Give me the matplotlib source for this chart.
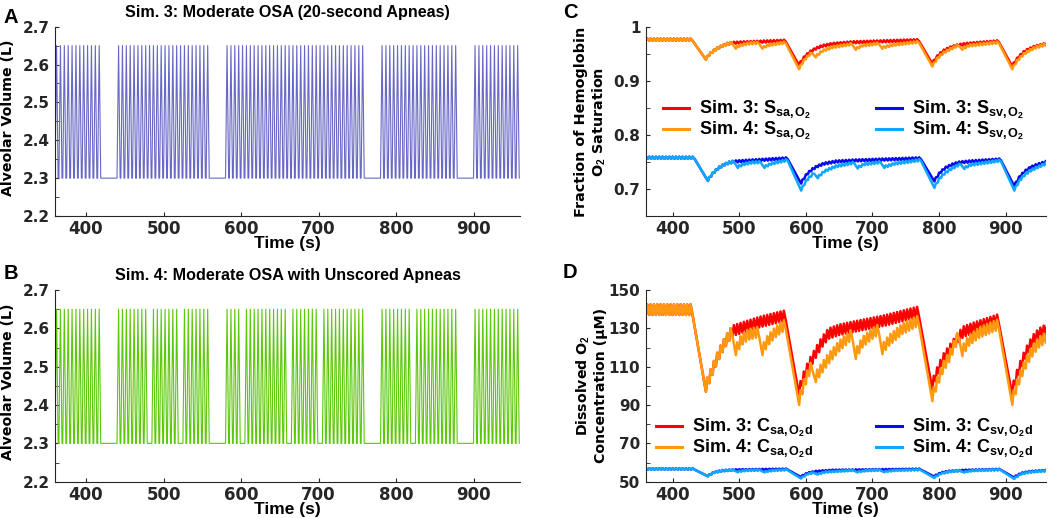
import numpy as np
import matplotlib
matplotlib.use('Agg')
import matplotlib.pyplot as plt
from matplotlib.lines import Line2D
from matplotlib.ticker import MultipleLocator, FixedLocator, FuncFormatter

plt.rcParams.update({
    'font.family': ['Liberation Sans', 'DejaVu Sans'],
    'font.weight': 'bold', 'font.size': 12.5,
    'axes.labelweight': 'bold', 'axes.titleweight': 'bold', 'axes.titlesize': 11.6,
    'mathtext.fontset': 'custom', 'mathtext.rm': 'Liberation Sans:bold',
    'mathtext.it': 'Liberation Sans:bold', 'mathtext.bf': 'Liberation Sans:bold',
    'mathtext.default': 'rm',
    'xtick.direction': 'in', 'ytick.direction': 'in',
    'xtick.major.size': 3, 'ytick.major.size': 3,
    'xtick.minor.size': 3, 'ytick.minor.size': 3,
    'axes.linewidth': 0.8, 'axes.edgecolor': '#262626',
    'xtick.color': '#262626', 'ytick.color': '#262626',
})

# breathing schedule (s)
T_START, T_END = 340, 960
BREATH_PERIOD = 5
APNEAS = [(420, 440), (560, 580), (760, 780), (880, 900)]   # scored, both sims
UNSCORED_SIM4 = [480, 520, 600, 660, 700, 820]              # missed breaths, sim 4
V_MIN, V_MAX = 2.30, 2.65
LAG_ART, LAG_VEN = 10, 13

SSA3 = [(340, .975), (430, .975), (450, .940), (458, .951), (466, .958), (474, .963), (482, .967),
        (490, .969), (530, .971), (570, .973), (590, .929), (598, .943), (606, .952), (614, .958),
        (624, .963), (640, .967), (670, .970), (720, .972), (770, .974), (790, .932), (798, .945),
        (806, .954), (816, .960), (826, .964), (840, .967), (890, .972), (910, .927), (918, .941),
        (926, .951), (934, .957), (944, .962), (960, .967)]
SSA4 = [(340, .975), (430, .975), (450, .940), (458, .951), (466, .958), (474, .963), (482, .967),
        (490, .969), (495, .960), (503, .965), (515, .968), (530, .969), (535, .960), (545, .965),
        (570, .970), (590, .922), (598, .938), (606, .948), (610, .951), (615, .944), (625, .954),
        (640, .961), (670, .967), (675, .958), (685, .964), (710, .968), (715, .960), (730, .965),
        (770, .971), (790, .927), (798, .941), (806, .950), (816, .957), (830, .965), (835, .958),
        (845, .964), (890, .970), (910, .922), (918, .937), (926, .947), (934, .954), (944, .960),
        (960, .966)]
SSV3 = [(340, .756), (433, .756), (453, .715), (461, .728), (469, .737), (477, .743), (485, .747),
        (493, .749), (533, .752), (573, .755), (593, .710), (601, .725), (609, .734), (617, .740),
        (627, .745), (645, .749), (675, .751), (725, .753), (773, .755), (793, .714), (801, .728),
        (809, .737), (819, .743), (829, .747), (845, .749), (893, .753), (913, .705), (921, .721),
        (929, .731), (937, .738), (947, .743), (960, .748)]
SSV4 = [(340, .756), (433, .756), (453, .715), (461, .728), (469, .737), (477, .743), (485, .747),
        (493, .749), (498, .739), (506, .744), (518, .747), (533, .748), (538, .739), (548, .745),
        (573, .752), (593, .697), (601, .714), (609, .724), (613, .728), (618, .720), (628, .731),
        (645, .740), (673, .747), (678, .738), (688, .744), (713, .748), (718, .739), (733, .745),
        (773, .752), (793, .702), (801, .718), (809, .728), (819, .736), (833, .745), (838, .737),
        (848, .743), (893, .751), (913, .697), (921, .714), (929, .725), (937, .732), (947, .738),
        (960, .745)]
CSA3 = [(340, 137), (430, 137), (450, 97), (458, 104), (466, 111), (474, 117), (482, 122),
        (490, 126), (530, 130.5), (570, 134), (590, 95), (598, 103), (606, 109), (614, 114),
        (624, 120), (634, 124.5), (650, 126.5), (670, 128), (720, 131.5), (770, 136), (790, 98),
        (798, 105), (806, 111), (816, 116), (826, 121), (836, 125.5), (860, 128.5), (890, 132),
        (910, 95), (918, 104), (926, 111), (934, 117), (942, 121.5), (950, 124.5), (960, 126.5)]
CSA4 = [(340, 137), (430, 137), (450, 97), (458, 104), (466, 111), (474, 117), (482, 122),
        (490, 126), (495, 116), (503, 121), (513, 124), (530, 125.5), (535, 116), (543, 121),
        (555, 125.5), (570, 129.5), (590, 90), (598, 99), (606, 106), (610, 108), (615, 102),
        (623, 106), (633, 111), (650, 118), (670, 124.5), (675, 114), (685, 120), (698, 124),
        (710, 127), (715, 116.5), (725, 121), (745, 127), (770, 131.5), (790, 92), (798, 100),
        (806, 107), (816, 113), (830, 124.5), (835, 115.5), (845, 121), (860, 125), (890, 129.5),
        (910, 90), (918, 99), (926, 106), (934, 112), (942, 116.5), (950, 120), (960, 122.5)]
CSV3 = [(340, 56.3), (433, 56.3), (453, 52.8), (463, 54.6), (475, 55.4), (493, 55.8), (573, 56.2),
        (593, 52.4), (603, 54.2), (615, 55.0), (640, 55.6), (773, 56.2), (793, 52.6), (803, 54.3),
        (815, 55.1), (840, 55.6), (893, 56.1), (913, 52.1), (923, 54.0), (935, 54.9), (960, 55.5)]
CSV4 = [(340, 56.3), (433, 56.3), (453, 52.8), (463, 54.6), (475, 55.4), (493, 55.8), (498, 54.9),
        (510, 55.5), (533, 55.7), (538, 54.8), (550, 55.5), (573, 55.9), (593, 51.6), (603, 53.7),
        (613, 54.4), (618, 53.7), (630, 54.7), (673, 55.6), (678, 54.8), (690, 55.4), (713, 55.7),
        (718, 54.9), (733, 55.5), (773, 55.9), (793, 51.9), (803, 53.9), (815, 54.8), (833, 55.5),
        (838, 54.7), (850, 55.4), (893, 55.9), (913, 51.4), (923, 53.6), (935, 54.6), (960, 55.3)]
# per-breath ripple height
RIP_S, RIP_CSA, RIP_CSV = 0.004, 5.5, 0.7
D_TICKS = [50, 70, 90, 110, 130, 150]

COL = {'v3': '#6868c6', 'v4': '#5cc80a', 'sa3': '#ff0000', 'sa4': '#ff9a10',
       'sv3': '#0a0aee', 'sv4': '#10a8ff'}
WIDE = 'DejaVu Sans'   # wider face for tick labels and y labels


def onsets(skips=()):
    t = np.arange(T_START, T_END, BREATH_PERIOD)
    keep = np.ones(len(t), bool)
    for a, b in APNEAS:
        keep &= ~((t >= a) & (t < b))
    for s in skips:
        keep &= t != s
    return t[keep]


def volume_xy(on):
    x = np.column_stack([on, on + 2, on + 4]).ravel()
    y = np.tile([V_MIN, V_MAX, V_MIN], len(on))
    return x, y


def blood_xy(keys, on, lag, amp):
    kt, kv = np.array(keys).T
    b = on + lag
    t = np.unique(np.concatenate([kt, b, b + 2, b + 5]))
    ph = t[:, None] - b[None, :]
    tri = np.where((ph >= 0) & (ph < 2), ph / 2,
                   np.where((ph >= 2) & (ph < 5), (5 - ph) / 3, 0))
    return t, np.interp(t, kt, kv) + amp * tri.max(axis=1)


def style(ax):
    ax.spines['top'].set_visible(False)
    ax.spines['right'].set_visible(False)
    ax.set_xlim(360, 960)
    ax.xaxis.set_major_locator(MultipleLocator(100))
    ax.tick_params(labelfontfamily=WIDE)
    ax.tick_params(axis='x', pad=3, labelsize=12)
    ax.tick_params(axis='y', pad=4, labelsize=11)
    ax.set_xlabel('Time (s)', labelpad=-1.5)


on3 = onsets()
on4 = onsets(UNSCORED_SIM4)

fig = plt.figure(figsize=(10.52, 5.18), dpi=100)
axA = fig.add_axes([0.0523, 0.583, 0.442, 0.3655])
axB = fig.add_axes([0.0523, 0.0701, 0.442, 0.370])
axC = fig.add_axes([0.614, 0.583, 0.380, 0.3645])
axD = fig.add_axes([0.614, 0.0701, 0.380, 0.370])

for ax, on, c, title in [(axA, on3, COL['v3'], 'Sim. 3: Moderate OSA (20-second Apneas)'),
                         (axB, on4, COL['v4'], 'Sim. 4: Moderate OSA with Unscored Apneas')]:
    ax.plot(*volume_xy(on), color=c, lw=0.8)
    ax.set_ylim(2.2, 2.7)
    ax.yaxis.set_major_locator(MultipleLocator(0.1))
    ax.yaxis.set_minor_locator(MultipleLocator(0.05))
    ax.set_ylabel('Alveolar Volume (L)', family=WIDE, fontsize=10.2)
    ax.yaxis.set_label_coords(-0.086, 0.52)
    ax.set_title(title, pad=7)
    style(ax)

lw = 1.8
for ax, sets in [(axC, [(SSA3, on3, LAG_ART, RIP_S, 'sa3'), (SSA4, on4, LAG_ART, RIP_S, 'sa4'),
                        (SSV3, on3, LAG_VEN, RIP_S, 'sv3'), (SSV4, on4, LAG_VEN, RIP_S, 'sv4')]),
                 (axD, [(CSA3, on3, LAG_ART, RIP_CSA, 'sa3'), (CSA4, on4, LAG_ART, RIP_CSA, 'sa4'),
                        (CSV3, on3, LAG_VEN, RIP_CSV, 'sv3'), (CSV4, on4, LAG_VEN, RIP_CSV, 'sv4')])]:
    for keys, on, lag, amp, c in sets:
        ax.plot(*blood_xy(keys, on, lag, amp), color=COL[c], lw=lw)
    style(ax)

axC.set_ylim(0.65, 1.0)
axC.yaxis.set_major_locator(MultipleLocator(0.1))
axC.yaxis.set_minor_locator(MultipleLocator(0.05))
axC.yaxis.set_major_formatter(FuncFormatter(lambda v, p: f'{v:g}'))
axC.set_ylabel('Fraction of Hemoglobin\nO$_2$ Saturation', family=WIDE, fontsize=10.4)
axC.yaxis.set_label_coords(-0.096, 0.50)

axD.set_ylim(50, 150)
axD.yaxis.set_major_locator(FixedLocator(D_TICKS))
axD.yaxis.set_minor_locator(MultipleLocator(10))
axD.set_ylabel('Dissolved O$_2$\nConcentration (\u00b5M)', family=WIDE, fontsize=10.2)
axD.yaxis.set_label_coords(-0.094, 0.50)


def leg(ax, labels, anchor, colsp):
    hs = [Line2D([0], [0], color=COL[k], lw=2.2) for k in ['sa3', 'sa4', 'sv3', 'sv4']]
    ax.legend(hs, labels, ncol=2, frameon=False, loc='center', bbox_to_anchor=anchor,
              fontsize=13, handlelength=1.45, handletextpad=0.55, columnspacing=colsp,
              labelspacing=-0.05, borderpad=0.2)


leg(axC, ['Sim. 3: S$_{sa,O_2}$', 'Sim. 4: S$_{sa,O_2}$',
          'Sim. 3: S$_{sv,O_2}$', 'Sim. 4: S$_{sv,O_2}$'], (0.495, 0.505), 3.6)
leg(axD, ['Sim. 3: C$_{sa,O_2d}$', 'Sim. 4: C$_{sa,O_2d}$',
          'Sim. 3: C$_{sv,O_2d}$', 'Sim. 4: C$_{sv,O_2d}$'], (0.497, 0.225), 3.5)

for x, y, s in [(0.003, 0.985, 'A'), (0.003, 0.49, 'B'), (0.535, 0.995, 'C'), (0.535, 0.493, 'D')]:
    fig.text(x, y, s, fontsize=14.5, fontweight='bold', va='top', ha='left')

fig.savefig('out.png', dpi=100)
